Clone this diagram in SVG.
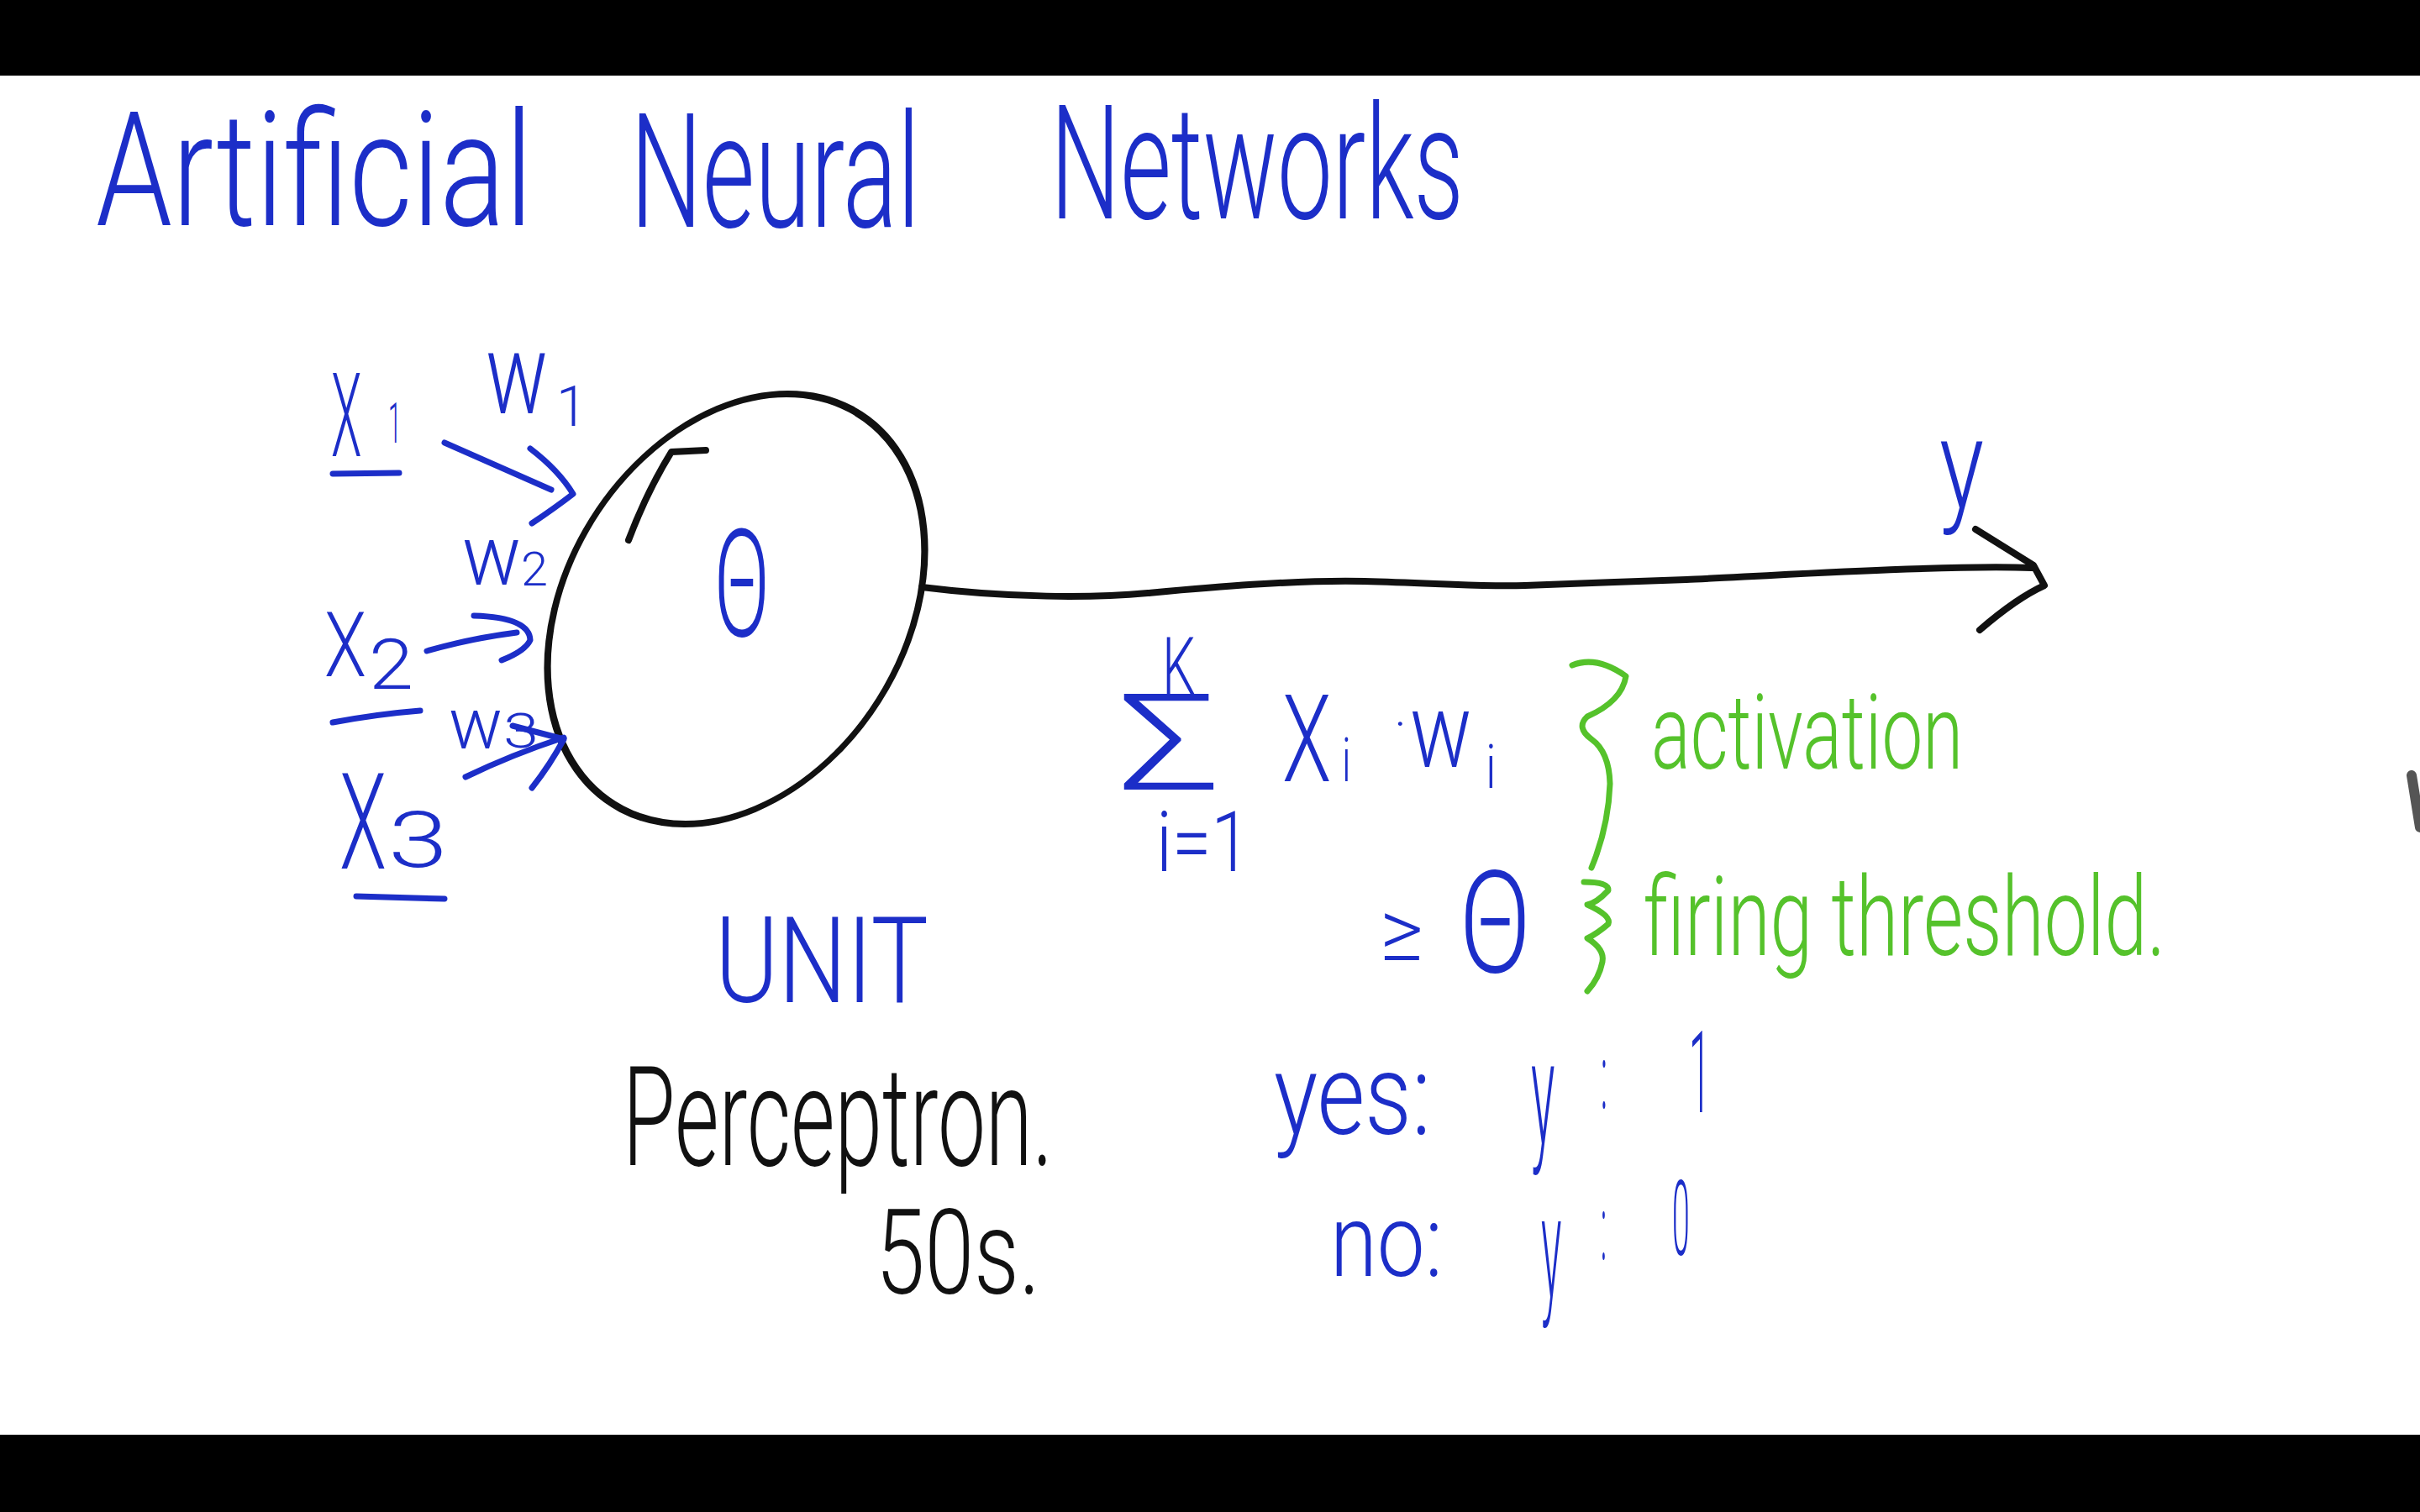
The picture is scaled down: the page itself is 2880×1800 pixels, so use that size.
<svg xmlns="http://www.w3.org/2000/svg" width="2880" height="1800" viewBox="0 0 2880 1800">
<style>
text{font-family:Roboto,"Liberation Sans",sans-serif;font-weight:300}
.b{fill:#1c2ec8}
.g{fill:#55c22b}
.k{fill:#111}
.bs{fill:none;stroke:#1c2ec8;stroke-width:7;stroke-linecap:round;stroke-linejoin:round}
.gs{fill:none;stroke:#55c22b;stroke-width:7;stroke-linecap:round;stroke-linejoin:round}
.ks{fill:none;stroke:#111;stroke-width:8;stroke-linecap:round;stroke-linejoin:round}
</style>
<rect x="0" y="0" width="2880" height="1800" fill="#fff"/>
<rect x="0" y="0" width="2880" height="90" fill="#000"/>
<rect x="0" y="1708" width="2880" height="92" fill="#000"/>
<g id="title">
<text class="b" x="114" y="268" font-size="190" textLength="520" lengthAdjust="spacingAndGlyphs">Artificial</text>
<text class="b" x="750" y="270" font-size="190" textLength="345" lengthAdjust="spacingAndGlyphs">Neural</text>
<text class="b" x="1250" y="260" font-size="190" textLength="492" lengthAdjust="spacingAndGlyphs">Networks</text>
</g>
<g id="unit">
<ellipse class="ks" cx="0" cy="0" rx="216" ry="256" transform="translate(876,725) skewX(-13.4)"/>
<path class="ks" d="M748,643 Q770,585 799,538 L840,536"/>
<text class="b" x="850" y="757" font-size="178" textLength="66" lengthAdjust="spacingAndGlyphs">Θ</text>
</g>
<g id="x1">
<text class="b" x="394" y="543" font-size="140" textLength="52" lengthAdjust="spacingAndGlyphs">X<tspan x="462" y="527" font-size="66">1</tspan></text>
<path class="bs" d="M396,564 L475,563"/>
</g>
<g id="x2">
<text class="b" x="386" y="805" font-size="108" textLength="50" lengthAdjust="spacingAndGlyphs">X</text>
<text class="b" x="439" y="820" font-size="84" textLength="53" lengthAdjust="spacingAndGlyphs">2</text>
<path class="bs" d="M396,860 Q450,850 500,846"/>
</g>
<g id="x3">
<text class="b" x="404" y="1034" font-size="160" textLength="56" lengthAdjust="spacingAndGlyphs">X</text>
<text class="b" x="462" y="1032" font-size="92" textLength="71" lengthAdjust="spacingAndGlyphs">3</text>
<path class="bs" d="M424,1067 L529,1070"/>
</g>
<g id="weights">
<text class="b" x="578" y="492" font-size="136" textLength="74" lengthAdjust="spacingAndGlyphs">w</text>
<text class="b" x="662" y="507" font-size="66">1</text>
<text class="b" x="550" y="696" font-size="100" textLength="70" lengthAdjust="spacingAndGlyphs">w</text>
<text class="b" x="620" y="697" font-size="56" textLength="32" lengthAdjust="spacingAndGlyphs">2</text>
<text class="b" x="534" y="891" font-size="86" textLength="64" lengthAdjust="spacingAndGlyphs">w</text>
<text class="b" x="599" y="890" font-size="58" textLength="42" lengthAdjust="spacingAndGlyphs">3</text>
</g>
<g id="connectors">
<path class="bs" d="M529,527 Q600,558 656,583"/>
<path class="bs" d="M631,534 Q665,560 682,588 Q660,605 633,623"/>
<path class="bs" d="M508,775 Q560,760 615,753"/>
<path class="bs" d="M564,733 Q630,735 631,762 Q625,775 597,786"/>
<path class="bs" d="M554,925 Q610,898 671,878"/>
<path class="bs" d="M610,864 L671,880 Q655,910 633,938"/>
<path class="ks" d="M1097,699 C1200,712 1300,712 1366,706 S1540,690 1624,692 S1760,699 1815,697 S1950,692 2007,690 S2300,672 2418,676"/>
<path class="ks" d="M2351,630 L2420,673 L2433,697 Q2400,712 2356,750"/>
</g>
<g id="output-label">
<text class="b" x="2308" y="605" font-size="150" textLength="53" lengthAdjust="spacingAndGlyphs">y</text>
</g>
<g id="sum">
<text class="b" x="1383" y="827" font-size="97" textLength="40" lengthAdjust="spacingAndGlyphs">K</text>
<text class="b" x="1331" y="940" font-size="159" textLength="121" lengthAdjust="spacingAndGlyphs">Σ</text>
<text class="b" x="1376" y="1037" font-size="100" textLength="112" lengthAdjust="spacingAndGlyphs">i=1</text>
<text class="b" x="1526" y="930" font-size="145" textLength="69" lengthAdjust="spacingAndGlyphs">X<tspan x="1597" y="930" font-size="72">i</tspan></text>
<text class="b" x="1659" y="882" font-size="60">·</text>
<text class="b" x="1678" y="913" font-size="125" textLength="86" lengthAdjust="spacingAndGlyphs">w<tspan x="1768" y="938" font-size="72">i</tspan></text>
<text class="b" x="1642" y="1143" font-size="100" textLength="52" lengthAdjust="spacingAndGlyphs">≥</text>
<text class="b" x="1737" y="1157" font-size="169" textLength="85" lengthAdjust="spacingAndGlyphs">Θ</text>
</g>
<g id="annotations">
<path class="gs" d="M1871,792 Q1900,780 1935,805 Q1930,835 1889,853 Q1875,866 1894,880 Q1915,895 1916,933 Q1914,985 1894,1033"/>
<text class="g" x="1965" y="915" font-size="125" textLength="371" lengthAdjust="spacingAndGlyphs">activation</text>
<path class="gs" d="M1885,1050 Q1915,1050 1914,1060 Q1900,1075 1889,1077 Q1918,1090 1914,1100 Q1900,1112 1889,1117 Q1910,1130 1907,1145 Q1903,1165 1889,1180"/>
<text class="g" x="1956" y="1137" font-size="132" textLength="621" lengthAdjust="spacingAndGlyphs">firing threshold.</text>
</g>
<g id="labels">
<text class="b" x="851" y="1193" font-size="142" textLength="254" lengthAdjust="spacingAndGlyphs">UNIT</text>
<text class="k" x="741" y="1387" font-size="166" textLength="512" lengthAdjust="spacingAndGlyphs">Perceptron.</text>
<text class="k" x="1042" y="1540" font-size="141" textLength="196" lengthAdjust="spacingAndGlyphs">50s.</text>
</g>
<g id="outputs">
<text class="b" x="1516" y="1350" font-size="135" textLength="187" lengthAdjust="spacingAndGlyphs">yes:</text>
<text class="b" x="1822" y="1362" font-size="175" textLength="62" lengthAdjust="spacingAndGlyphs">y<tspan x="1905" y="1320" font-size="110">:</tspan><tspan x="2010" y="1324" font-size="136">1</tspan></text>
<text class="b" x="1583" y="1519" font-size="120" textLength="134" lengthAdjust="spacingAndGlyphs">no:</text>
<text class="b" x="1834" y="1545" font-size="170" textLength="52" lengthAdjust="spacingAndGlyphs">y<tspan x="1905" y="1500" font-size="110">:</tspan><tspan x="1990" y="1494" font-size="124">0</tspan></text>
</g>
<path d="M2870,923 L2880,985" stroke="#555" stroke-width="12" stroke-linecap="round" fill="none"/>
</svg>
